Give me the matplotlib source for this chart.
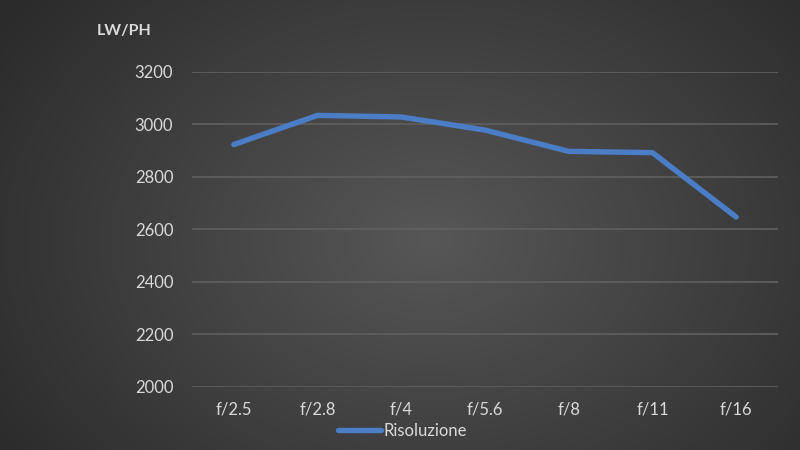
import numpy as np
import matplotlib
matplotlib.use("Agg")
import matplotlib.pyplot as plt
from matplotlib.lines import Line2D

categories = ["f/2.5", "f/2.8", "f/4", "f/5.6", "f/8", "f/11", "f/16"]
values = [2922, 3033, 3027, 2977, 2896, 2891, 2646]
y_ticks = [2000, 2200, 2400, 2600, 2800, 3000, 3200]
series_name = "Risoluzione"
y_title = "LW/PH"

plt.rcParams['font.family'] = ['Lato', 'DejaVu Sans']

fig = plt.figure(figsize=(8, 4.5), dpi=100)

# radial gradient background
bg = fig.add_axes([0, 0, 1, 1], zorder=-10)
yy, xx = np.mgrid[0:450, 0:800]
r = np.sqrt(((xx - 430) / 580.0) ** 2 + ((yy - 240) / 430.0) ** 2)
inner = np.array([0x57, 0x57, 0x57]) / 255.0
outer = np.array([0x26, 0x26, 0x26]) / 255.0
t = np.clip(r, 0, 1)[..., None]
img = inner * (1 - t) + outer * t
bg.imshow(img, aspect='auto', extent=[0, 1, 0, 1], origin='upper')
bg.axis('off')

ax = fig.add_axes([0.24, 0.141, 0.7325, 0.70])
ax.patch.set_alpha(0)
x = np.arange(len(categories))
ax.plot(x, values, color='#4a7dc5', lw=3.9, solid_capstyle='round', solid_joinstyle='round', zorder=3)
ax.set_xlim(-0.5, len(categories) - 0.5)
ax.set_ylim(2000, 3200)
ax.set_yticks(y_ticks)
ax.set_xticks(x)
ax.set_xticklabels(categories)
ax.grid(axis='y', color='#606060', lw=1.2)
ax.set_axisbelow(True)
for s in ax.spines.values():
    s.set_visible(False)
ax.tick_params(length=0, colors='#d9d9d9', labelsize=12)
ax.tick_params(axis='y', pad=13.5)
ax.tick_params(axis='x', pad=11)

fig.text(0.155, 0.931, y_title, color='#d9d9d9', fontsize=11.5, fontweight='bold', ha='center', va='center')

handle = Line2D([0], [0], color='#4a7dc5', lw=3.9, solid_capstyle='round')
fig.legend([handle], [series_name], loc='center', bbox_to_anchor=(0.503, 0.042), frameon=False,
           labelcolor='#d9d9d9', fontsize=12, handlelength=2.6, handletextpad=0.1)

fig.savefig("out.png", dpi=100)
